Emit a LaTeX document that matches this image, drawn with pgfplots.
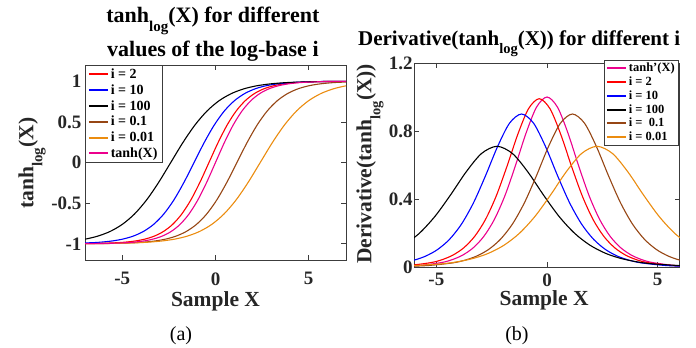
\documentclass[border=0pt]{standalone}
\usepackage{fontspec}
\setmainfont{Liberation Serif}
\usepackage{pgfplots}
\pgfplotsset{compat=1.18}
\definecolor{cbrown}{RGB}{150,70,20}
\definecolor{corange}{RGB}{235,140,15}
\definecolor{axgray}{RGB}{60,60,60}
\newcommand{\tanhlog}[2]{tanh\raisebox{-#2}{\fontsize{#1}{#1}\selectfont log}}
\pgfplotsset{
  mystyle/.style={
    scale only axis,
    clip mode=individual,
    axis line style={draw=axgray, line width=0.7bp},
    every tick/.style={draw=axgray, line width=0.7bp},
    major tick length=5bp,
    tick align=inside,
    no markers,
    ticklabel style={font=\fontsize{19bp}{19bp}\selectfont\bfseries, text=black!85},
    label style={font=\fontsize{21.5bp}{22bp}\selectfont\bfseries, text=black!85},
    legend cell align=left,
  },
  cv/.style={line width=1.1bp, smooth},
}
\begin{document}
\begin{tikzpicture}
\useasboundingbox (0bp,0bp) rectangle (696bp,348bp);
% ---------------- left axis ----------------
\begin{axis}[mystyle,
  at={(85bp,88bp)}, anchor=south west, width=261bp, height=195bp,
  xmin=-7, xmax=7, ymin=-1.2, ymax=1.2,
  xtick={-5,0,5}, xticklabels={-5,0,5},
  ytick={-1,-0.5,0,0.5,1}, yticklabels={-1,-0.5,0,0.5,1},
  xticklabel style={yshift=-9bp},
  xlabel={Sample X},
  xlabel style={at={(axis description cs:0.5,-0.241)}, anchor=base},
  ylabel={\tanhlog{15bp}{0.42em}(X)},
  ylabel style={at={(axis description cs:-0.203,0.497)}, anchor=center},
  legend image code/.code={\draw[#1, line width=2bp] (0bp,0bp) -- (19bp,0bp);},
  legend style={at={(0,1)}, anchor=north west, draw=axgray, line width=0.6bp,
    font=\fontsize{14bp}{14bp}\selectfont\bfseries, inner xsep=2.5bp, inner ysep=1.5bp,
    row sep=0.6bp, fill=white},
]
\addplot[cv, red] coordinates {(-8.15,-0.9993)(-7.175,-0.9982)(-6.2,-0.9951)(-5.225,-0.9866)(-4.7375,-0.9780)(-4.25,-0.9640)(-3.7625,-0.9414)(-3.275,-0.9051)(-2.7875,-0.8483)(-2.3,-0.7616)(-1.8125,-0.6351)(-1.325,-0.4621)(-0.8375,-0.2449)(-0.35,0)(0.1375,0.2449)(0.625,0.4621)(1.1125,0.6351)(1.6,0.7616)(2.0875,0.8483)(2.575,0.9051)(3.0625,0.9414)(3.55,0.9640)(4.0375,0.9780)(4.525,0.9866)(5.5,0.9951)(6.475,0.9982)(7.45,0.9993)};
\addlegendentry{i = 2}
\addplot[cv, blue] coordinates {(-7.66,-0.9951)(-6.575,-0.9866)(-6.0325,-0.9780)(-5.49,-0.9640)(-4.9475,-0.9414)(-4.405,-0.9051)(-3.8625,-0.8483)(-3.32,-0.7616)(-2.7775,-0.6351)(-2.235,-0.4621)(-1.6925,-0.2449)(-1.15,0)(-0.6075,0.2449)(-0.065,0.4621)(0.4775,0.6351)(1.02,0.7616)(1.5625,0.8483)(2.105,0.9051)(2.6475,0.9414)(3.19,0.9640)(3.7325,0.9780)(4.275,0.9866)(5.36,0.9951)(6.445,0.9982)(7.53,0.9993)};
\addlegendentry{i = 10}
\addplot[cv, black] coordinates {(-7.6,-0.9640)(-6.95,-0.9414)(-6.3,-0.9051)(-5.65,-0.8483)(-5.0,-0.7616)(-4.35,-0.6351)(-3.7,-0.4621)(-3.05,-0.2449)(-2.4,0)(-1.75,0.2449)(-1.1,0.4621)(-0.45,0.6351)(0.2,0.7616)(0.85,0.8483)(1.5,0.9051)(2.15,0.9414)(2.8,0.9640)(3.45,0.9780)(4.1,0.9866)(5.4,0.9951)(6.7,0.9982)(8.0,0.9993)};
\addlegendentry{i = 100}
\addplot[cv, cbrown] coordinates {(-7.53,-0.9993)(-6.445,-0.9982)(-5.36,-0.9951)(-4.275,-0.9866)(-3.7325,-0.9780)(-3.19,-0.9640)(-2.6475,-0.9414)(-2.105,-0.9051)(-1.5625,-0.8483)(-1.02,-0.7616)(-0.4775,-0.6351)(0.065,-0.4621)(0.6075,-0.2449)(1.15,0)(1.6925,0.2449)(2.235,0.4621)(2.7775,0.6351)(3.32,0.7616)(3.8625,0.8483)(4.405,0.9051)(4.9475,0.9414)(5.49,0.9640)(6.0325,0.9780)(6.575,0.9866)(7.66,0.9951)};
\addlegendentry{i = 0.1}
\addplot[cv, corange] coordinates {(-8.0,-0.9993)(-6.7,-0.9982)(-5.4,-0.9951)(-4.1,-0.9866)(-3.45,-0.9780)(-2.8,-0.9640)(-2.15,-0.9414)(-1.5,-0.9051)(-0.85,-0.8483)(-0.2,-0.7616)(0.45,-0.6351)(1.1,-0.4621)(1.75,-0.2449)(2.4,0)(3.05,0.2449)(3.7,0.4621)(4.35,0.6351)(5.0,0.7616)(5.65,0.8483)(6.3,0.9051)(6.95,0.9414)(7.6,0.9640)};
\addlegendentry{i = 0.01}
\addplot[cv, magenta] coordinates {(-7.6,-0.9993)(-6.65,-0.9982)(-5.7,-0.9951)(-4.75,-0.9866)(-4.275,-0.9780)(-3.8,-0.9640)(-3.325,-0.9414)(-2.85,-0.9051)(-2.375,-0.8483)(-1.9,-0.7616)(-1.425,-0.6351)(-0.95,-0.4621)(-0.475,-0.2449)(0,0)(0.475,0.2449)(0.95,0.4621)(1.425,0.6351)(1.9,0.7616)(2.375,0.8483)(2.85,0.9051)(3.325,0.9414)(3.8,0.9640)(4.275,0.9780)(4.75,0.9866)(5.7,0.9951)(6.65,0.9982)(7.6,0.9993)};
\addlegendentry{tanh(X)}
\node[anchor=base, font=\fontsize{22bp}{22bp}\selectfont\bfseries] at (axis description cs:0.49,1.217) {\tanhlog{15bp}{0.42em}(X) for different};
\node[anchor=base, font=\fontsize{22bp}{22bp}\selectfont\bfseries] at (axis description cs:0.49,1.043) {values of the log-base i};
\node[anchor=base, font=\fontsize{20bp}{20bp}\selectfont] at (axis description cs:0.368,-0.415) {(a)};
\end{axis}
% ---------------- right axis ----------------
\begin{axis}[mystyle,
  at={(414.2bp,81bp)}, anchor=south west, width=265.6bp, height=204bp,
  xmin=-6, xmax=6, ymin=0, ymax=1.2,
  xtick={-5,0,5}, xticklabels={-5,0,5},
  ytick={0,0.4,0.8,1.2}, yticklabels={0,0.4,0.8,1.2},
  xticklabel style={yshift=-3bp},
  yticklabel style={xshift=2bp},
  xlabel={Sample X},
  xlabel style={at={(axis description cs:0.489,-0.188)}, anchor=base},
  ylabel={Derivative(\tanhlog{14.5bp}{0.42em}(X))},
  ylabel style={at={(axis description cs:-0.166,0.505)}, anchor=center},
  legend image code/.code={\draw[#1, line width=2bp] (0bp,0bp) -- (19bp,0bp);},
  legend style={at={(0.997,1.015)}, anchor=north east, draw=axgray, line width=0.6bp,
    font=\fontsize{12.5bp}{13bp}\selectfont\bfseries, inner xsep=2bp, inner ysep=1bp,
    row sep=-0.4bp, fill=white},
]
\addplot[cv, magenta] coordinates {(-6.65,0.0036)(-5.7,0.0099)(-4.75,0.0266)(-4.275,0.0435)(-3.8,0.0707)(-3.325,0.1138)(-2.85,0.1808)(-2.375,0.2804)(-1.9,0.42)(-1.425,0.5966)(-0.95,0.7864)(-0.475,0.94)(0,1)(0.475,0.94)(0.95,0.7864)(1.425,0.5966)(1.9,0.42)(2.375,0.2804)(2.85,0.1808)(3.325,0.1138)(3.8,0.0707)(4.275,0.0435)(4.75,0.0266)(5.7,0.0099)(6.65,0.0036)};
\addlegendentry{tanh'(X)}
\addplot[cv, red] coordinates {(-7.175,0.0036)(-6.2,0.0098)(-5.225,0.0263)(-4.7375,0.0431)(-4.25,0.0700)(-3.7625,0.1127)(-3.275,0.1790)(-2.7875,0.2776)(-2.3,0.4158)(-1.8125,0.5906)(-1.325,0.7785)(-0.8375,0.9306)(-0.35,0.99)(0.1375,0.9306)(0.625,0.7785)(1.1125,0.5906)(1.6,0.4158)(2.0875,0.2776)(2.575,0.1790)(3.0625,0.1127)(3.55,0.0700)(4.0375,0.0431)(4.525,0.0263)(5.5,0.0098)(6.475,0.0036)};
\addlegendentry{i = 2}
\addplot[cv, blue] coordinates {(-6.575,0.0239)(-6.0325,0.0392)(-5.49,0.0636)(-4.9475,0.1024)(-4.405,0.1627)(-3.8625,0.2524)(-3.32,0.378)(-2.7775,0.5369)(-2.235,0.7078)(-1.6925,0.846)(-1.15,0.9)(-0.6075,0.846)(-0.065,0.7078)(0.4775,0.5369)(1.02,0.378)(1.5625,0.2524)(2.105,0.1627)(2.6475,0.1024)(3.19,0.0636)(3.7325,0.0392)(4.275,0.0239)(5.36,0.0089)(6.445,0.0032)};
\addlegendentry{i = 10}
\addplot[cv, black] coordinates {(-6.46,0.1284)(-5.76,0.1991)(-5.06,0.2982)(-4.36,0.4236)(-3.66,0.5583)(-2.96,0.6674)(-2.26,0.71)(-1.56,0.6674)(-0.86,0.5583)(-0.16,0.4236)(0.54,0.2982)(1.24,0.1991)(1.94,0.1284)(2.64,0.0808)(3.34,0.0502)(4.04,0.0309)(4.74,0.0189)(6.14,0.0070)};
\addlegendentry{i = 100}
\addplot[cv, cbrown] coordinates {(-6.445,0.0032)(-5.36,0.0089)(-4.275,0.0239)(-3.7325,0.0392)(-3.19,0.0636)(-2.6475,0.1024)(-2.105,0.1627)(-1.5625,0.2524)(-1.02,0.378)(-0.4775,0.5369)(0.065,0.7078)(0.6075,0.846)(1.15,0.9)(1.6925,0.846)(2.235,0.7078)(2.7775,0.5369)(3.32,0.378)(3.8625,0.2524)(4.405,0.1627)(4.9475,0.1024)(5.49,0.0636)(6.0325,0.0392)(6.575,0.0239)};
\addlegendentry{i =\ \ 0.1}
\addplot[cv, corange] coordinates {(-6.14,0.0070)(-4.74,0.0189)(-4.04,0.0309)(-3.34,0.0502)(-2.64,0.0808)(-1.94,0.1284)(-1.24,0.1991)(-0.54,0.2982)(0.16,0.4236)(0.86,0.5583)(1.56,0.6674)(2.26,0.71)(2.96,0.6674)(3.66,0.5583)(4.36,0.4236)(5.06,0.2982)(5.76,0.1991)(6.46,0.1284)};
\addlegendentry{i = 0.01}
\node[anchor=base, font=\fontsize{21bp}{21bp}\selectfont\bfseries] at (axis description cs:0.395,1.088) {Derivative(\tanhlog{14.5bp}{0.42em}(X)) for different i};
\node[anchor=base, font=\fontsize{20bp}{20bp}\selectfont] at (axis description cs:0.387,-0.358) {(b)};
\end{axis}
\end{tikzpicture}
\end{document}
